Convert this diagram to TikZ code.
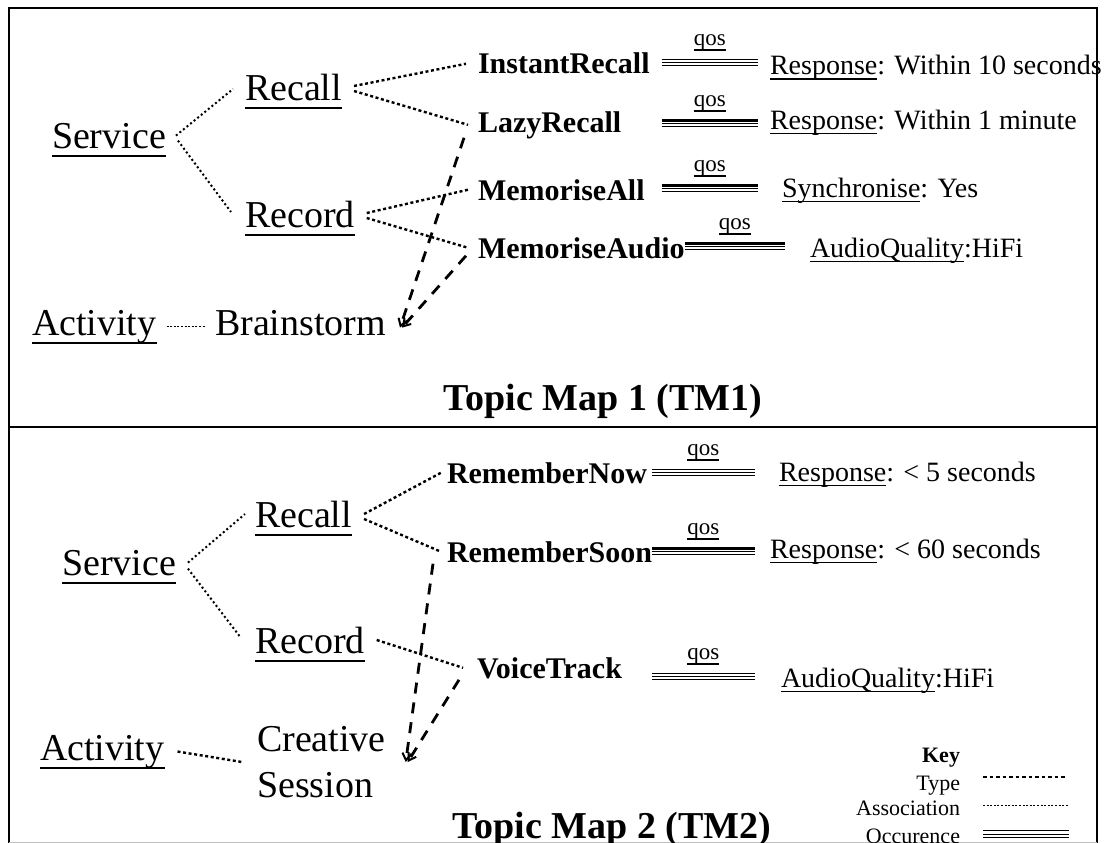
\documentclass[tikz,border=0pt]{standalone}
\usepackage{fontspec}
\setmainfont{Liberation Serif}
\usetikzlibrary{arrows.meta,calc}
\newlength\myulw
\newcommand\myul[2][8.5pt]{\settowidth\myulw{#2}\rlap{\smash{\rule[-#1]{\myulw}{1.5pt}}}#2}
\newcommand\occlines[3]{%
  \draw[line width=#3] ($(#1)+(0,-3.2)$) -- ($(#2)+(0,-3.2)$);
  \draw[line width=1pt] (#1) -- (#2);
  \draw[line width=1pt] ($(#1)+(0,3)$) -- ($(#2)+(0,3)$);}
\begin{document}
\begin{tikzpicture}[x=1pt,y=-1pt,
  every node/.style={inner sep=0pt, outer sep=0pt},
  big/.style={font=\fontsize{38}{46}\selectfont, anchor=base west},
  mid/.style={font=\fontsize{30}{36}\selectfont\bfseries, anchor=base west},
  small/.style={font=\fontsize{28}{34}\selectfont, anchor=base west},
  qosl/.style={font=\fontsize{23}{28}\selectfont, anchor=base},
  keyl/.style={font=\fontsize{22}{26}\selectfont, anchor=base east},
  title/.style={font=\fontsize{38}{46}\selectfont\bfseries, anchor=base},
  typthin/.style={line width=2pt, dash pattern=on 2pt off 2.6pt},
  typ/.style={line width=2.4pt, dash pattern=on 3pt off 2.6pt},
  assoc/.style={line width=1pt, dash pattern=on 2pt off 1.6pt},
  occdash/.style={line width=2.8pt, dash pattern=on 11pt off 9pt,
     -{Straight Barb[length=7pt,width=9pt,line width=2pt]}},
  frame/.style={line width=2pt}]
\fill[white] (0,0) rectangle (1112,843);
\useasboundingbox (0,0) rectangle (1112,843);
% frame
\draw[frame] (9,843) -- (9,8) -- (1097,8) -- (1097,843);
\draw[line width=2.5pt] (9,427) -- (1097,427);
\draw[black!25, line width=1pt] (9,842) -- (1097,842);

% ---------------- Topic Map 1 ----------------
\node[big] (svc1) at (52,148) {\myul{Service}};
\node[big] (rec1) at (245,100) {\myul{Recall}};
\node[big] (rcd1) at (245,227) {\myul{Record}};
\node[big] (act1) at (32,335) {\myul{Activity}};
\node[big] (brain) at (215,335) {Brainstorm};
\node[mid] (instant) at (478,74) {InstantRecall};
\node[mid] (lazy) at (478,132) {LazyRecall};
\node[mid] (memall) at (478,200) {MemoriseAll};
\node[mid] (memaud) at (478,258) {MemoriseAudio};
\node[small] (resp1) at (770,75) {\myul[5pt]{Response}: Within 10 seconds};
\node[small] (resp2) at (770,129) {\myul[5pt]{Response}: Within 1 minute};
\node[small] (sync) at (782,197) {\myul[5pt]{Synchronise}: Yes};
\node[small] (aq1) at (810,257) {\myul[5pt]{AudioQuality}:HiFi};
\node[title] (tm1) at (603,410) {Topic Map 1 (TM1)};

\draw[typthin] ([xshift=10pt]svc1.east) -- ([xshift=-12pt,yshift=-2pt]rec1.west);
\draw[typthin] ([xshift=12pt,yshift=-5pt]svc1.east) -- ([xshift=-14pt,yshift=2pt]rcd1.west);
\draw[typ] ([xshift=12pt,yshift=1pt]rec1.east) -- ([xshift=-12pt]instant.west);
\draw[typ] ([xshift=12pt,yshift=-4pt]rec1.east) -- ([xshift=-10pt]lazy.west);
\draw[typ] ([xshift=12pt,yshift=1pt]rcd1.east) -- ([xshift=-10pt]memall.west);
\draw[typ] ([xshift=12pt,yshift=-4pt]rcd1.east) -- ([xshift=-10pt]memaud.west);
\draw[assoc] ([xshift=10pt]act1.east) -- ($(act1.east -| brain.west)+(-10,0)$);
\draw[occdash] ([xshift=-14pt,yshift=-13pt]lazy.west) -- ([xshift=14pt,yshift=-5pt]brain.east);
\draw[occdash] ([xshift=-12pt,yshift=-8pt]memaud.west) -- ([xshift=16pt,yshift=-5pt]brain.east);

\coordinate (o1a) at ($(instant.east)+(12,-1)$);
\coordinate (o1b) at ($(o1a -| resp1.west)+(-12,0)$);
\coordinate (o2a) at ($(lazy.east -| o1a)+(0,-1)$);
\coordinate (o2b) at (o2a -| o1b);
\coordinate (o3a) at ($(memall.east -| o1a)+(0,-1)$);
\coordinate (o3b) at (o3a -| o1b);
\coordinate (o4a) at ($(memaud.east)+(0,-1)$);
\coordinate (o4b) at ($(o4a -| aq1.west)+(-25,0)$);
\occlines{o1a}{o1b}{1pt}
\occlines{o2a}{o2b}{2.6pt}
\occlines{o3a}{o3b}{2.6pt}
\occlines{o4a}{o4b}{2.6pt}
\node[qosl] (q1) at ($(o1a)!0.5!(o1b)+(0,-17)$) {\myul[5pt]{qos}};
\node[qosl] (q2) at ($(o2a)!0.5!(o2b)+(0,-17)$) {\myul[5pt]{qos}};
\node[qosl] (q3) at ($(o3a)!0.5!(o3b)+(0,-17)$) {\myul[5pt]{qos}};
\node[qosl] (q4) at ($(o4a)!0.5!(o4b)+(0,-17)$) {\myul[5pt]{qos}};

% ---------------- Topic Map 2 ----------------
\node[big] (svc2) at (62,575) {\myul{Service}};
\node[big] (rec2) at (255,527) {\myul{Recall}};
\node[big] (rcd2) at (255,653) {\myul{Record}};
\node[big] (act2) at (40,760) {\myul{Activity}};
\node[font=\fontsize{38}{46}\selectfont, align=left, anchor=west] (creat) at (257,762) {Creative\\Session};
\node[mid] (rnow) at (447,483) {RememberNow};
\node[mid] (rsoon) at (447,562) {RememberSoon};
\node[mid] (voice) at (477,678) {VoiceTrack};
\node[small] (resp3) at (779,481) {\myul[5pt]{Response}: < 5 seconds};
\node[small] (resp4) at (770,558) {\myul[5pt]{Response}: < 60 seconds};
\node[small] (aq2) at (781,687) {\myul[5pt]{AudioQuality}:HiFi};
\node[title] (tm2) at (612,838) {Topic Map 2 (TM2)};

\draw[typthin] ([xshift=12pt]svc2.east) -- ([xshift=-10pt]rec2.west);
\draw[typthin] ([xshift=12pt,yshift=-6pt]svc2.east) -- ([xshift=-14pt,yshift=2pt]rcd2.west);
\draw[typ] ([xshift=12pt]rec2.east) -- ([xshift=-6pt]rnow.west);
\draw[typ] ([xshift=12pt,yshift=-5pt]rec2.east) -- ([xshift=-6pt]rsoon.west);
\draw[typ] ([xshift=12pt]rcd2.east) -- ([xshift=-14pt]voice.west);
\draw[typ] ([xshift=13pt]act2.east) -- ([xshift=-15pt]creat.west);
\draw[occdash] ([xshift=-14pt,yshift=-12pt]rsoon.west) -- ([xshift=20pt]creat.east);
\draw[occdash] ([xshift=-18pt,yshift=-12pt]voice.west) -- ([xshift=22pt]creat.east);

\coordinate (p1a) at ($(rnow.east)+(5,0)$);
\coordinate (p1b) at (755,0 |- p1a);
\coordinate (p2a) at (rsoon.east -| p1a);
\coordinate (p2b) at (p2a -| p1b);
\coordinate (p3a) at ($(voice.east -| p1a)+(0,9)$);
\coordinate (p3b) at (p3a -| p1b);
\occlines{p1a}{p1b}{1pt}
\occlines{p2a}{p2b}{2.6pt}
\occlines{p3a}{p3b}{1pt}
\node[qosl] (q5) at ($(p1a)!0.5!(p1b)+(0,-17)$) {\myul[5pt]{qos}};
\node[qosl] (q6) at ($(p2a)!0.5!(p2b)+(0,-17)$) {\myul[5pt]{qos}};
\node[qosl] (q7) at ($(p3a)!0.5!(p3b)+(0,-17)$) {\myul[5pt]{qos}};

% ---------------- Key ----------------
\node[keyl, font=\fontsize{22}{26}\selectfont\bfseries] (kkey) at (960,762) {Key};
\node[keyl] (ktype) at (960,790) {Type};
\node[keyl] (kassoc) at (960,815) {Association};
\node[keyl] (kocc) at (960,843) {Occurence};
\coordinate (kt1) at (983,777);
\coordinate (kt2) at (1066,777);
\coordinate (ka1) at (983,805);
\coordinate (ka2) at (1069,805);
\coordinate (ko1) at (983,834);
\coordinate (ko2) at (1069,834);
\draw[typ, line width=2.6pt, dash pattern=on 3.5pt off 3pt] (kt1) -- (kt2);
\draw[assoc] (ka1) -- (ka2);
\occlines{ko1}{ko2}{1pt}
\end{tikzpicture}
\end{document}
